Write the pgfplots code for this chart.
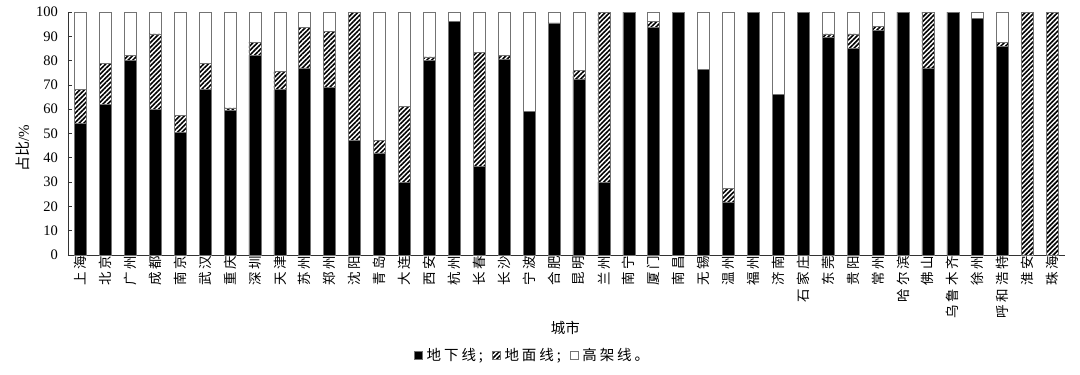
\documentclass[border=0pt]{standalone}
\usepackage{pgfplots}
\pgfplotsset{compat=1.18}
\usepackage{pgfplotstable}
\usetikzlibrary{patterns.meta}
\usepackage{fontspec}
\setmainfont{Liberation Serif}
\newfontfamily\cjk{Noto Sans CJK SC}
\newfontfamily\cjkls[LetterSpace=20]{Noto Sans CJK SC}
\pgfplotstableread{
idx u g e
0 54 14 32
1 62 17 21
2 80 2 18
3 60 31 9
4 50.5 7 42.5
5 68 11 21
6 59.5 1 39.5
7 82 5.5 12.5
8 68 7.5 24.5
9 77 16.5 6.5
10 69 23 8
11 47 53 0
12 42 5 53
13 30 31 39
14 80 1.5 18.5
15 96 0 4
16 36.5 47 16.5
17 80.5 1.5 18
18 59 0 41
19 95.5 0 4.5
20 72.5 3.5 24
21 30 70 0
22 100 0 0
23 93.5 2.5 4
24 100 0 0
25 76.5 0 23.5
26 21.5 6 72.5
27 100 0 0
28 66 0 34
29 100 0 0
30 89.5 1.5 9
31 85 6 9
32 92.5 1.5 6
33 100 0 0
34 77 23 0
35 100 0 0
36 97.5 0 2.5
37 86 1.5 12.5
38 0 100 0
39 0 100 0
}\datatable
\begin{document}
\begin{tikzpicture}
\useasboundingbox (-68pt,-120pt) rectangle (1012pt,255pt);
\begin{axis}[
  scale only axis,
  width=997pt, height=243pt,
  ybar stacked,
  bar width=12pt,
  xmin=-0.5, xmax=39.5,
  ymin=0, ymax=100,
  axis x line*=bottom,
  axis y line*=left,
  axis line style={draw=black!80, line width=0.9pt},
  ytick={0,10,...,100},
  xtick={0,...,39},
  xticklabels={上海,北京,广州,成都,南京,武汉,重庆,深圳,天津,苏州,郑州,沈阳,青岛,大连,西安,杭州,长春,长沙,宁波,合肥,昆明,兰州,南宁,厦门,南昌,无锡,温州,福州,济南,石家庄,东莞,贵阳,常州,哈尔滨,佛山,乌鲁木齐,徐州,呼和浩特,淮安,珠海},
  xticklabel style={rotate=90, anchor=east, font=\cjkls\fontsize{13.5}{14}\selectfont, inner sep=1pt},
  x tick style={draw=none},
  y tick style={draw=black!80, line width=0.8pt},
  tick align=inside,
  major tick length=4pt,
  yticklabel style={font=\fontsize{14.5}{16}\selectfont, inner sep=0pt, xshift=-10pt},
  /pgf/number format/assume math mode=true,
  ylabel={{\cjk 占比}/\%},
  ylabel style={font=\fontsize{15}{16}\selectfont, at={(axis description cs:-0.045,0.44)}, anchor=center},
  xlabel={\cjk 城市},
  xlabel style={font=\fontsize{14.5}{16}\selectfont, at={(axis description cs:0.499,-0.30)}, anchor=center},
  legend style={at={(axis description cs:0.466,-0.413)}, anchor=center, draw=none, legend columns=3, font=\cjkls\fontsize{14.5}{15}\selectfont, /tikz/every odd column/.append style={column sep=2pt}, /tikz/every even column/.append style={column sep=7pt}, nodes={inner sep=2pt}},
  legend image code/.code={\draw[#1, line width=0.6pt] (0pt,-4pt) rectangle (8pt,4pt);},
]
\addplot+[fill=black, draw=black!55, line width=0.6pt, mark=none] table[x=idx, y=u] {\datatable};
\addplot+[pattern={Lines[angle=45,distance=3.3pt,line width=1.6pt]}, pattern color=black, draw=black!55, line width=0.6pt, mark=none] table[x=idx, y=g] {\datatable};
\addplot+[fill=white, draw=black!55, line width=0.6pt, mark=none] table[x=idx, y=e] {\datatable};
\legend{地下线;, 地面线;, 高架线。}
\end{axis}
\end{tikzpicture}
\end{document}
